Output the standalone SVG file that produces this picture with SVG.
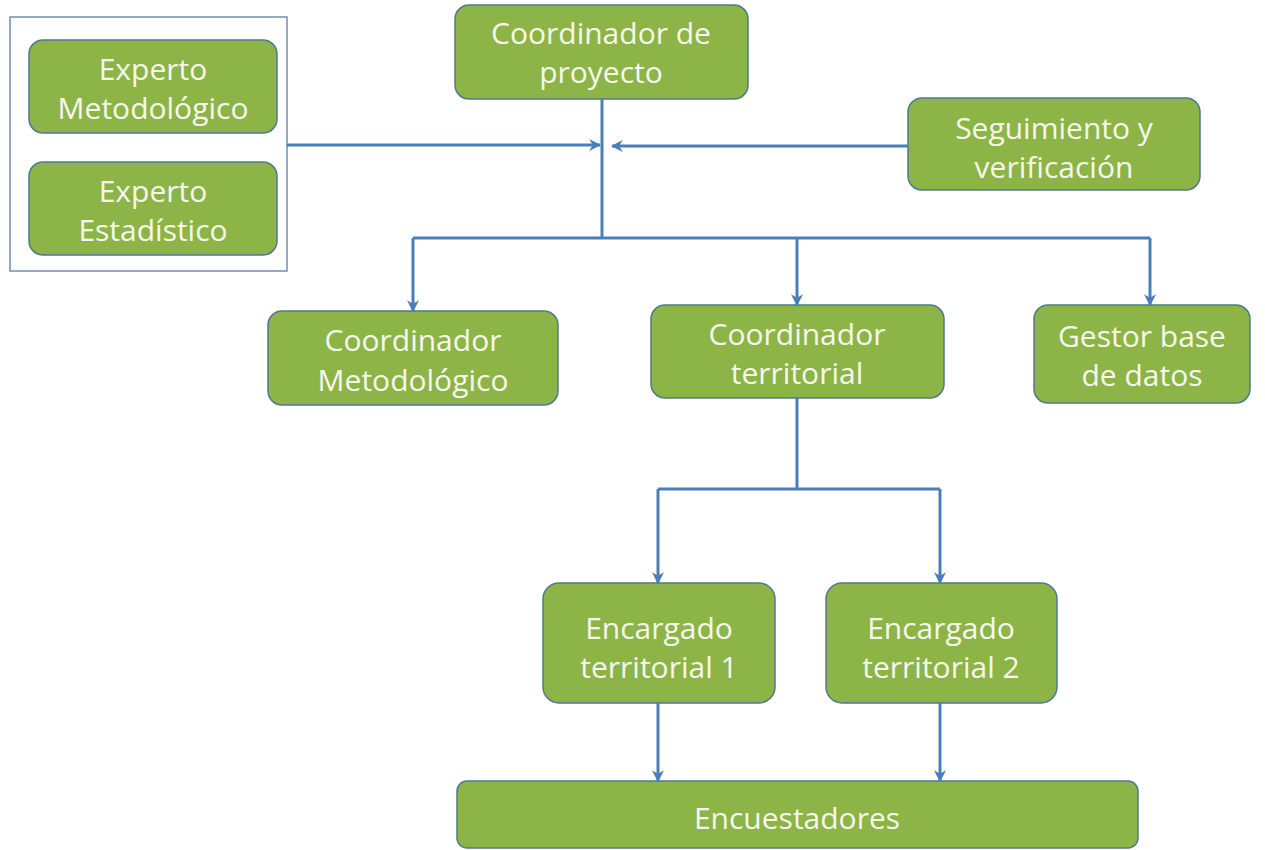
<svg xmlns="http://www.w3.org/2000/svg" width="1265" height="850" viewBox="0 0 1265 850">
<defs>
<marker id="ah" viewBox="0 0 10 10" refX="9" refY="5" markerWidth="4" markerHeight="4" orient="auto" markerUnits="strokeWidth">
<path d="M0,0 L10,5 L0,10 L3,5 z" fill="#4a7ebb"/>
</marker>
<style>
.box{fill:#8db447;stroke:#4f7a8c;stroke-width:1.5}
.t{font-family:"Open Sans","Liberation Sans",sans-serif;font-size:30px;fill:#f6f8ee;text-anchor:middle}
.c{fill:none;stroke:#4a7ebb;stroke-width:3}
.ca{fill:none;stroke:#4a7ebb;stroke-width:3;marker-end:url(#ah)}
</style>
</defs>
<rect width="1265" height="850" fill="#ffffff"/>
<g id="expertos-frame">
<rect x="10" y="17" width="277" height="254" fill="none" stroke="#6f8fb0" stroke-width="1.5"/>
</g>
<g id="experto-metodologico">
<rect class="box" x="29" y="40" width="248" height="93" rx="14"/>
<text class="t" x="153" y="80">Experto</text>
<text class="t" x="153" y="119">Metodológico</text>
</g>
<g id="experto-estadistico">
<rect class="box" x="29" y="162" width="248" height="93" rx="14"/>
<text class="t" x="153" y="202">Experto</text>
<text class="t" x="153" y="241">Estadístico</text>
</g>
<g id="coordinador-proyecto">
<rect class="box" x="455" y="5" width="293" height="94" rx="14"/>
<text class="t" x="601" y="44">Coordinador de</text>
<text class="t" x="601" y="83">proyecto</text>
</g>
<g id="seguimiento">
<rect class="box" x="908" y="98" width="292" height="92" rx="14"/>
<text class="t" x="1054" y="139">Seguimiento y</text>
<text class="t" x="1054" y="178">verificación</text>
</g>
<g id="coordinador-metodologico">
<rect class="box" x="268" y="311" width="290" height="94" rx="14"/>
<text class="t" x="413" y="351">Coordinador</text>
<text class="t" x="413" y="391">Metodológico</text>
</g>
<g id="coordinador-territorial">
<rect class="box" x="651" y="305" width="293" height="93" rx="14"/>
<text class="t" x="797" y="345">Coordinador</text>
<text class="t" x="797" y="384">territorial</text>
</g>
<g id="gestor">
<rect class="box" x="1034" y="305" width="216" height="98" rx="14"/>
<text class="t" x="1142" y="347">Gestor base</text>
<text class="t" x="1142" y="386">de datos</text>
</g>
<g id="encargado-1">
<rect class="box" x="543" y="583" width="232" height="120" rx="16"/>
<text class="t" x="659" y="639">Encargado</text>
<text class="t" x="659" y="678">territorial 1</text>
</g>
<g id="encargado-2">
<rect class="box" x="826" y="583" width="231" height="120" rx="16"/>
<text class="t" x="941" y="639">Encargado</text>
<text class="t" x="941" y="678">territorial 2</text>
</g>
<g id="encuestadores">
<rect class="box" x="457" y="781" width="681" height="67" rx="10"/>
<text class="t" x="797" y="829">Encuestadores</text>
</g>
<g id="connectors">
<path class="c" d="M602,99 V238"/>
<path class="c" d="M413,238 H1150"/>
<path class="ca" d="M287,145 H600"/>
<path class="ca" d="M908,146 H612"/>
<path class="ca" d="M413,238 V311"/>
<path class="ca" d="M797,238 V305"/>
<path class="ca" d="M1150,238 V305"/>
<path class="c" d="M797,398 V489"/>
<path class="c" d="M658,489 H940"/>
<path class="ca" d="M658,489 V583"/>
<path class="ca" d="M940,489 V583"/>
<path class="ca" d="M658,703 V781"/>
<path class="ca" d="M940,703 V781"/>
</g>
</svg>
